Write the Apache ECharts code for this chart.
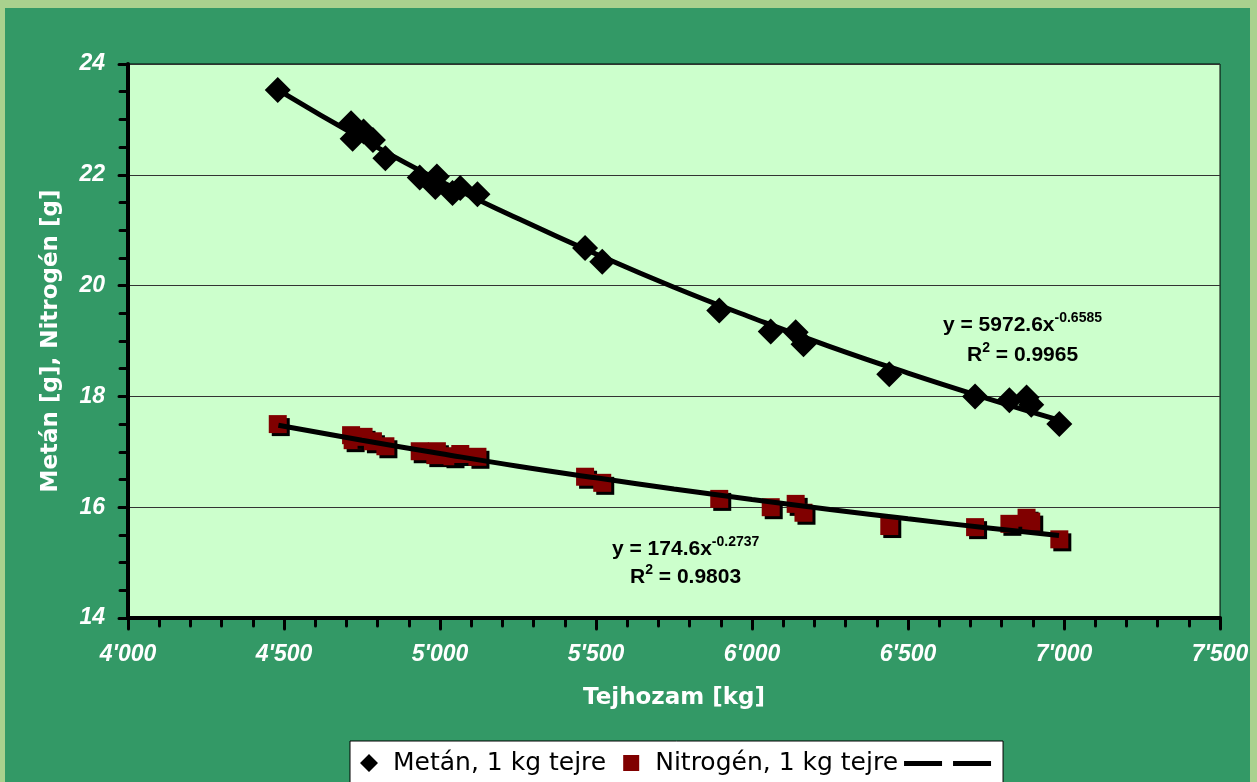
<!DOCTYPE html>
<html>
<head>
<meta charset="utf-8">
<script src="https://cdn.jsdelivr.net/npm/echarts@6/dist/echarts.min.js"></script>
<style>
  html, body { margin: 0; padding: 0; }
  body { width: 1257px; height: 782px; background: #A9D18E; position: relative; overflow: hidden; }
  #bg { position: absolute; left: 5px; top: 8px; right: 7px; bottom: 0; background: #339966; }
  #chart { position: absolute; left: 0; top: 0; width: 1257px; height: 782px; }
</style>
</head>
<body>
<div id="bg"></div>
<div id="chart"></div>
<script>
// ---- data ----
const milkYield = [4480, 4715, 4720, 4755, 4785, 4825, 4935, 4990, 4985, 5040, 5065, 5120,
                   5465, 5520, 5895, 6060, 6140, 6165, 6440, 6715, 6825, 6880, 6895, 6985];
const methane   = [23.53, 22.93, 22.65, 22.78, 22.63, 22.30, 21.95, 21.97, 21.78, 21.67, 21.76, 21.65,
                   20.68, 20.43, 19.55, 19.17, 19.16, 18.94, 18.40, 18.00, 17.93, 17.98, 17.85, 17.50];
const nitrogen  = [17.50, 17.30, 17.21, 17.27, 17.19, 17.10, 17.01, 17.01, 16.94, 16.92, 16.96, 16.91,
                   16.55, 16.44, 16.15, 16.00, 16.06, 15.90, 15.66, 15.64, 15.70, 15.81, 15.74, 15.42];
// trend lines (power fits shown on the chart), sampled values
const trendX        = [4482, 4750, 5000, 5250, 5500, 5750, 6000, 6250, 6500, 6750, 6984];
const methaneTrend  = [23.53, 22.65, 21.89, 21.21, 20.57, 19.97, 19.42, 18.90, 18.42, 17.97, 17.57];
const nitrogenTrend = [17.48, 17.21, 16.97, 16.74, 16.53, 16.33, 16.14, 15.96, 15.79, 15.63, 15.49];

const seriesNames = ['Metán, 1 kg tejre', 'Nitrogén, 1 kg tejre', '\u200b', '\u200b\u200b'];
const xTitle = 'Tejhozam [kg]';
const yTitle = 'Metán [g], Nitrogén [g]';
const eqMethane  = ['y = 5972.6x', '-0.6585', '0.9965'];
const eqNitrogen = ['y = 174.6x', '-0.2737', '0.9803'];

const pairs = (xs, ys) => xs.map((x, i) => [x, ys[i]]);
const thousands = v => String(v).replace(/\B(?=(\d{3})+(?!\d))/g, "'");

const chart = echarts.init(document.getElementById('chart'), null, { renderer: 'canvas' });

const labelFont = { color: '#fff', fontFamily: '"Liberation Sans", Arial, sans-serif', fontWeight: 'bold', fontStyle: 'italic', fontSize: 23 };
const titleFont = { color: '#fff', fontFamily: '"DejaVu Sans", sans-serif', fontWeight: 'bold', fontSize: 23 };
const eqRich = {
  m: { fontFamily: '"Liberation Sans", Arial, sans-serif', fontWeight: 'bold', fontSize: 21, lineHeight: 28, fill: '#000' },
  s: { fontFamily: '"Liberation Sans", Arial, sans-serif', fontWeight: 'bold', fontSize: 14, lineHeight: 13, verticalAlign: 'top', fill: '#000' }
};
// legend icons drawn in a 38x18 box (corner points keep the box size)
const box = 'M0,0L0,0L0,0Z M38,18L38,18L38,18Z ';
const iconDiamond = 'path://' + box + 'M19,0L28,9L19,18L10,9Z';
const iconSquare  = 'path://' + box + 'M11,1L27,1L27,17L11,17Z';
const iconLine    = 'path://' + box + 'M0,7L38,7L38,12L0,12Z';

const option = {
  animation: false,
  backgroundColor: 'transparent',
  grid: {
    left: 128, right: 37, top: 64, bottom: 164,
    show: true, backgroundColor: '#CCFFCC', borderColor: '#000', borderWidth: 1,
    containLabel: false, outerBoundsMode: 'none'
  },
  xAxis: {
    type: 'value', min: 4000, max: 7500, interval: 500,
    name: xTitle, nameLocation: 'middle', nameGap: 69, nameTextStyle: titleFont,
    axisLine: { show: true, onZero: false, lineStyle: { color: '#000', width: 4 } },
    axisTick: { show: true, inside: false, length: 11, lineStyle: { color: '#000', width: 3, cap: 'round' } },
    minorTick: { show: true, splitNumber: 5, length: 8, lineStyle: { color: '#000', width: 3, cap: 'round' } },
    splitLine: { show: false },
    axisLabel: Object.assign({ margin: 25, formatter: thousands, showMinLabel: true, showMaxLabel: true, hideOverlap: false }, labelFont)
  },
  yAxis: {
    type: 'value', min: 14, max: 24, interval: 2,
    name: yTitle, nameLocation: 'middle', nameGap: 65, nameRotate: 90, nameTextStyle: titleFont,
    axisLine: { show: true, onZero: false, lineStyle: { color: '#000', width: 4 } },
    axisTick: { show: true, inside: false, length: 9, lineStyle: { color: '#000', width: 3, cap: 'round' } },
    minorTick: { show: true, splitNumber: 4, length: 8, lineStyle: { color: '#000', width: 3, cap: 'round' } },
    splitLine: { show: true, lineStyle: { color: '#333', width: 1 } },
    axisLabel: Object.assign({ margin: 23 }, labelFont)
  },
  legend: {
    left: 350, top: 741, orient: 'horizontal',
    padding: [8, 7, 8, 0], itemGap: 6, itemWidth: 38, itemHeight: 18,
    backgroundColor: '#fff', borderColor: '#000', borderWidth: 1, borderRadius: 0,
    selectedMode: false,
    textStyle: { color: '#000', fontFamily: '"DejaVu Sans", sans-serif', fontSize: 25, lineHeight: 28 },
    data: [
      { name: seriesNames[0], icon: iconDiamond, itemStyle: { color: '#000' } },
      { name: seriesNames[1], icon: iconSquare, itemStyle: { color: '#800000', shadowColor: 'rgba(0,0,0,0)', shadowOffsetX: 0, shadowOffsetY: 0 } },
      { name: seriesNames[2], icon: iconLine, itemStyle: { color: '#000' } },
      { name: seriesNames[3], icon: iconLine, itemStyle: { color: '#000' } }
    ]
  },
  series: [
    {
      name: seriesNames[0], type: 'scatter', symbol: 'diamond', symbolSize: 26,
      itemStyle: { color: '#000', opacity: 1 },
      data: pairs(milkYield, methane), z: 2
    },
    {
      name: seriesNames[1], type: 'scatter', symbol: 'rect', symbolSize: 18,
      itemStyle: { color: '#800000', opacity: 1, shadowColor: '#000', shadowBlur: 0, shadowOffsetX: 3, shadowOffsetY: 3 },
      data: pairs(milkYield, nitrogen), z: 2
    },
    {
      name: seriesNames[2], type: 'line', smooth: true, symbol: 'none', color: '#000',
      lineStyle: { color: '#000', width: 5 },
      data: pairs(trendX, methaneTrend), z: 3
    },
    {
      name: seriesNames[3], type: 'line', smooth: true, symbol: 'none', color: '#000',
      lineStyle: { color: '#000', width: 5 },
      data: pairs(trendX, nitrogenTrend), z: 3
    }
  ],
  graphic: [
    { type: 'text', left: 943, top: 311, z: 10, style: { text: '{m|' + eqMethane[0] + '}{s|' + eqMethane[1] + '}', rich: eqRich } },
    { type: 'text', left: 967, top: 341, z: 10, style: { text: '{m|R}{s|2}{m| = ' + eqMethane[2] + '}', rich: eqRich } },
    { type: 'text', left: 612, top: 535, z: 10, style: { text: '{m|' + eqNitrogen[0] + '}{s|' + eqNitrogen[1] + '}', rich: eqRich } },
    { type: 'text', left: 630, top: 563, z: 10, style: { text: '{m|R}{s|2}{m| = ' + eqNitrogen[2] + '}', rich: eqRich } }
  ]
};
chart.setOption(option);
</script>
</body>
</html>
